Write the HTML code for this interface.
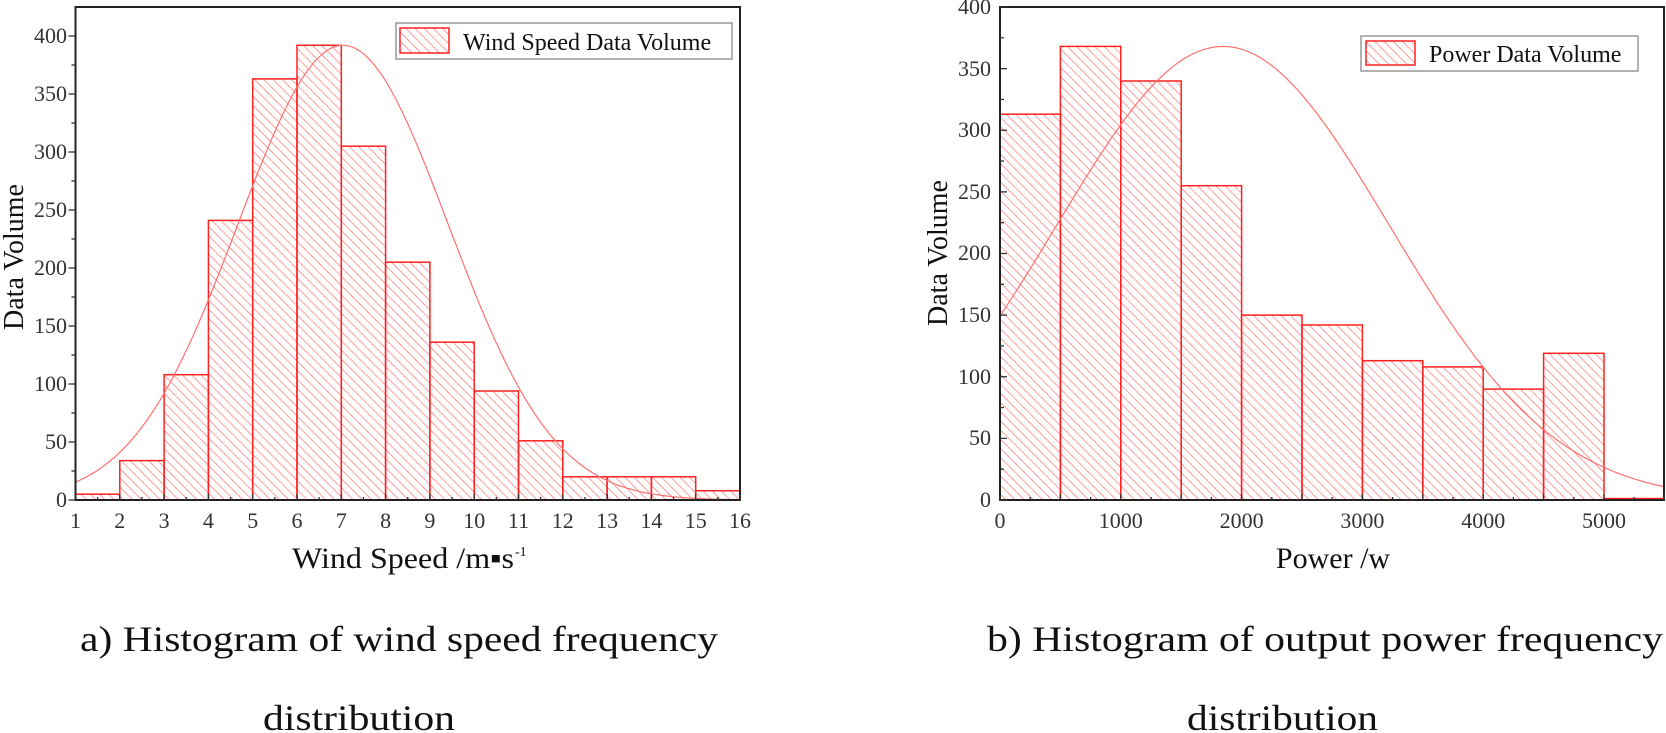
<!DOCTYPE html>
<html><head><meta charset="utf-8"><style>
html,body{margin:0;padding:0;background:#fff;}
svg{display:block;font-family:"Liberation Serif",serif;}
</style></head><body>
<svg id="s" width="1666" height="733" viewBox="0 0 1666 733" xmlns="http://www.w3.org/2000/svg">
<defs>
<pattern id="h" patternUnits="userSpaceOnUse" width="6.5" height="6.5" patternTransform="rotate(-45)">
<line x1="0" y1="0" x2="0" y2="6.5" stroke="#ff6b6b" stroke-width="1.3"/>
</pattern>
</defs>
<g id="L" stroke="#ff2020" stroke-width="1.5" fill="url(#h)">
<rect x="75.5" y="494.2" width="44.3" height="5.8"/>
<rect x="119.8" y="460.6" width="44.3" height="39.4"/>
<rect x="164.1" y="374.7" width="44.3" height="125.3"/>
<rect x="208.4" y="220.4" width="44.3" height="279.6"/>
<rect x="252.7" y="78.9" width="44.3" height="421.1"/>
<rect x="297" y="45.3" width="44.3" height="454.7"/>
<rect x="341.3" y="146.2" width="44.3" height="353.8"/>
<rect x="385.6" y="262.2" width="44.3" height="237.8"/>
<rect x="429.9" y="342.2" width="44.3" height="157.8"/>
<rect x="474.2" y="391" width="44.3" height="109"/>
<rect x="518.5" y="440.8" width="44.3" height="59.2"/>
<rect x="562.8" y="476.8" width="44.3" height="23.2"/>
<rect x="607.1" y="476.8" width="44.3" height="23.2"/>
<rect x="651.4" y="476.8" width="44.3" height="23.2"/>
<rect x="695.7" y="490.7" width="44.3" height="9.3"/>
</g>
<g stroke="#ff2020" stroke-width="1.5" fill="url(#h)">
<rect x="1000" y="114.2" width="60.4" height="385.8"/>
<rect x="1060.4" y="46.4" width="60.4" height="453.6"/>
<rect x="1120.8" y="81" width="60.4" height="419"/>
<rect x="1181.2" y="185.7" width="60.4" height="314.3"/>
<rect x="1241.6" y="315.1" width="60.4" height="184.9"/>
<rect x="1302" y="325" width="60.4" height="175"/>
<rect x="1362.4" y="360.7" width="60.4" height="139.3"/>
<rect x="1422.8" y="366.9" width="60.4" height="133.1"/>
<rect x="1483.2" y="389.1" width="60.4" height="110.9"/>
<rect x="1543.6" y="353.3" width="60.4" height="146.7"/>
<rect x="1604" y="498.5" width="60" height="1.5"/>
</g>
<path id="c1" fill="none" stroke="#ff7070" stroke-width="1.2"/>
<path id="c2" fill="none" stroke="#ff7070" stroke-width="1.2"/>
<rect x="75.5" y="7" width="664.5" height="493" fill="none" stroke="#222" stroke-width="2"/>
<rect x="1000" y="7" width="664" height="493" fill="none" stroke="#222" stroke-width="2"/>
<g id="ticks" stroke="#333" stroke-width="1.3"></g>
<rect x="396" y="23" width="336" height="36" fill="#fff" stroke="#999" stroke-width="1.5"/>
<rect x="400" y="28" width="49" height="25" fill="url(#h)" stroke="#ff2020" stroke-width="1.5"/>
<text x="463" y="50" font-size="24" fill="#111">Wind Speed Data Volume</text>
<rect x="1361" y="36" width="277" height="35" fill="#fff" stroke="#999" stroke-width="1.5"/>
<rect x="1366" y="41" width="49" height="24" fill="url(#h)" stroke="#ff2020" stroke-width="1.5"/>
<text x="1429" y="62" font-size="24" fill="#111">Power Data Volume</text>
<g font-size="22" fill="#333" text-anchor="end">
<text x="67" y="507">0</text><text x="67" y="449">50</text><text x="67" y="391">100</text><text x="67" y="333">150</text><text x="67" y="275">200</text><text x="67" y="217">250</text><text x="67" y="159">300</text><text x="67" y="101">350</text><text x="67" y="43">400</text>
<text x="991" y="507">0</text><text x="991" y="445">50</text><text x="991" y="384">100</text><text x="991" y="322">150</text><text x="991" y="260">200</text><text x="991" y="199">250</text><text x="991" y="137">300</text><text x="991" y="76">350</text><text x="991" y="14">400</text>
</g>
<g font-size="22" fill="#333" text-anchor="middle">
<text x="75.5" y="528">1</text><text x="119.8" y="528">2</text><text x="164.1" y="528">3</text><text x="208.4" y="528">4</text><text x="252.7" y="528">5</text><text x="297" y="528">6</text><text x="341.3" y="528">7</text><text x="385.6" y="528">8</text><text x="429.9" y="528">9</text><text x="474.2" y="528">10</text><text x="518.5" y="528">11</text><text x="562.8" y="528">12</text><text x="607.1" y="528">13</text><text x="651.4" y="528">14</text><text x="695.7" y="528">15</text><text x="740" y="528">16</text>
<text x="1000" y="528">0</text><text x="1120.8" y="528">1000</text><text x="1241.6" y="528">2000</text><text x="1362.4" y="528">3000</text><text x="1483.2" y="528">4000</text><text x="1604" y="528">5000</text>
</g>
<g fill="#111">
<text x="292" y="568" font-size="30" textLength="222" lengthAdjust="spacingAndGlyphs">Wind Speed /m▪s</text>
<text x="515" y="556" font-size="14">-1</text>
<text x="1333" y="568" font-size="30" text-anchor="middle">Power /w</text>
<text transform="translate(23,257) rotate(-90)" font-size="28" text-anchor="middle">Data Volume</text>
<text transform="translate(947,253) rotate(-90)" font-size="28" text-anchor="middle">Data Volume</text>
<text x="80" y="651" font-size="36" textLength="638" lengthAdjust="spacingAndGlyphs">a) Histogram of wind speed frequency</text>
<text x="263" y="730" font-size="36" textLength="192" lengthAdjust="spacingAndGlyphs">distribution</text>
<text x="987" y="651" font-size="36" textLength="676" lengthAdjust="spacingAndGlyphs">b) Histogram of output power frequency</text>
<text x="1187" y="730" font-size="36" textLength="191" lengthAdjust="spacingAndGlyphs">distribution</text>
</g>
</svg>
<script>
(function(){
var d="";
for(var i=0;i<=200;i++){var v=1+15*i/200;var c=392*Math.exp(-Math.pow(v-7.04,2)/(2*5.63));
d+=(i?"L":"M")+(75.5+(v-1)*44.3).toFixed(1)+" "+(500-c*1.16).toFixed(1);}
document.getElementById("c1").setAttribute("d",d);
d="";
for(var i=0;i<=200;i++){var v=5500*i/200;var c=368*Math.exp(-Math.pow(v-1846,2)/(2*1.89e6));
d+=(i?"L":"M")+(1000+v*0.1208).toFixed(1)+" "+(500-c*1.2325).toFixed(1);}
document.getElementById("c2").setAttribute("d",d);
var t="";
for(var k=0;k<=16;k++){var y=500-k*25*1.16;if(y<7)break;t+='<line x1="'+(75.5-(k%2?4:7))+'" y1="'+y+'" x2="75.5" y2="'+y+'"/>';}
for(var k=0;k<=16;k++){var y=500-k*25*1.2325;if(y<6)break;t+='<line x1="1000" y1="'+y+'" x2="'+(1000+(k%2?4:7))+'" y2="'+y+'"/>';}
for(var k=0;k<=30;k++){var x=75.5+k*22.15;t+='<line x1="'+x+'" y1="500" x2="'+x+'" y2="'+(500-(k%2?3:6))+'"/>';}
for(var k=0;k<=22;k++){var x=1000+k*30.2;t+='<line x1="'+x+'" y1="500" x2="'+x+'" y2="'+(500-(k%2?3:6))+'"/>';}
document.getElementById("ticks").innerHTML=t;
})();
</script>
</body></html>
